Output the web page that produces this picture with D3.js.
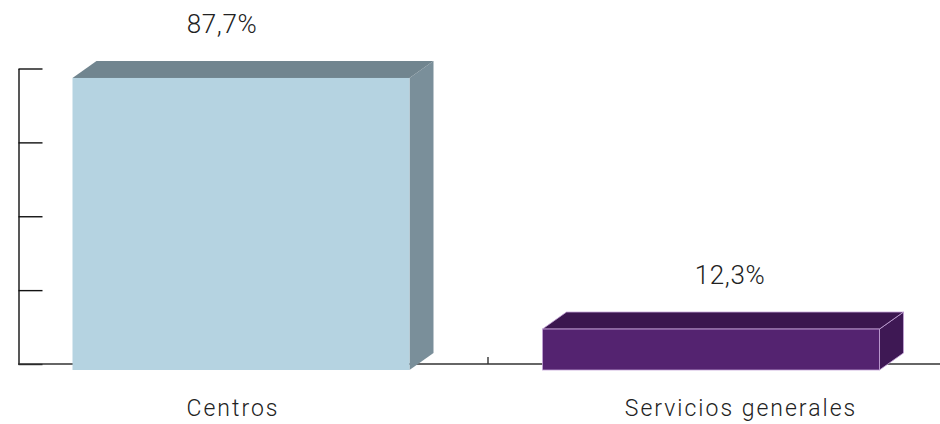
<!DOCTYPE html>
<html lang="es">
<head>
<meta charset="UTF-8">
<script src="https://cdn.jsdelivr.net/npm/d3@7/dist/d3.min.js"></script>
<style>
  body { margin: 0; background: #fff; }
  text { font-family: Roboto, "DejaVu Sans", sans-serif; font-weight: 300; fill: #222; }
</style>
</head>
<body>
<svg width="940" height="424"></svg>
<script>
// data
const categories = ['Centros', 'Servicios generales'];
const values = [87.7, 12.3];
const valueLabels = ['87,7%', '12,3%'];
const axisTicks = [0, 25, 50, 75, 100];

const faceColors = [
  {front: '#b5d3e1', top: '#71858f', side: '#7a8f9a', edge: 'none'},
  {front: '#542370', top: '#3b164f', side: '#3e1854', edge: '#c4a3d8'}
];

const svg = d3.select('svg');
const depthX = 24, depthY = -17;

// scales
const x = d3.scaleBand().domain(categories).range([6, 946]).paddingInner(0.283).paddingOuter(0.1415);
const y = d3.scaleLinear().domain([0, 100]).range([370, 37]);
const yAxisScale = d3.scaleLinear().domain([0, 100]).range([364, 68.5]);
const labelX = d3.scalePoint().domain(categories).range([228, 736]);

// vertical axis, ticks pointing right
svg.append('g')
    .attr('transform', 'translate(18.5,0)')
    .call(d3.axisRight(yAxisScale).tickValues(axisTicks).tickSize(24).tickSizeOuter(0).tickFormat(''))
    .call(g => g.selectAll('path, line').attr('stroke', '#111').attr('stroke-width', 1.4));

// baseline
svg.append('line')
    .attr('x1', 18).attr('x2', 940)
    .attr('y1', yAxisScale(0)).attr('y2', yAxisScale(0))
    .attr('stroke', '#333').attr('stroke-width', 1.4);

// category separator tick
const sepX = (x(categories[0]) + x.bandwidth() + depthX + x(categories[1])) / 2;
svg.append('line')
    .attr('x1', sepX).attr('x2', sepX)
    .attr('y1', yAxisScale(0)).attr('y2', yAxisScale(0) - 7)
    .attr('stroke', '#333').attr('stroke-width', 1.4);

// 3d bars
const bars = svg.selectAll('.bar')
    .data(categories.map((c, i) => ({cat: c, v: values[i], col: faceColors[i]})))
    .enter().append('g').attr('class', 'bar');

bars.append('path')  // side
    .attr('d', d => {
        const x1 = x(d.cat) + x.bandwidth(), yt = y(d.v), yb = y(0);
        return `M${x1},${yt}L${x1 + depthX},${yt + depthY}L${x1 + depthX},${yb + depthY}L${x1},${yb}Z`;
    })
    .attr('fill', d => d.col.side)
    .attr('stroke', d => d.col.edge).attr('stroke-width', 0.8);

bars.append('path')  // top
    .attr('d', d => {
        const x0 = x(d.cat), x1 = x0 + x.bandwidth(), yt = y(d.v);
        return `M${x0},${yt}L${x0 + depthX},${yt + depthY}L${x1 + depthX},${yt + depthY}L${x1},${yt}Z`;
    })
    .attr('fill', d => d.col.top)
    .attr('stroke', d => d.col.edge).attr('stroke-width', 0.8);

bars.append('rect')  // front
    .attr('x', d => x(d.cat))
    .attr('y', d => y(d.v))
    .attr('width', x.bandwidth())
    .attr('height', d => y(0) - y(d.v))
    .attr('fill', d => d.col.front)
    .attr('stroke', d => d.col.edge).attr('stroke-width', 0.8);

// value labels
svg.selectAll('.val')
    .data(categories)
    .enter().append('text')
    .attr('class', 'val')
    .attr('x', c => labelX(c) - 6)
    .attr('y', (c, i) => y(values[i]) + depthY - 28)
    .attr('text-anchor', 'middle')
    .attr('font-size', 26)
    .attr('letter-spacing', 0.6)
    .text((c, i) => valueLabels[i]);

// category labels
svg.selectAll('.cat')
    .data(categories)
    .enter().append('text')
    .attr('class', 'cat')
    .attr('x', c => labelX(c) + 5)
    .attr('y', 416)
    .attr('text-anchor', 'middle')
    .attr('font-size', 23)
    .attr('letter-spacing', 2)
    .text(c => c);
</script>
</body>
</html>
